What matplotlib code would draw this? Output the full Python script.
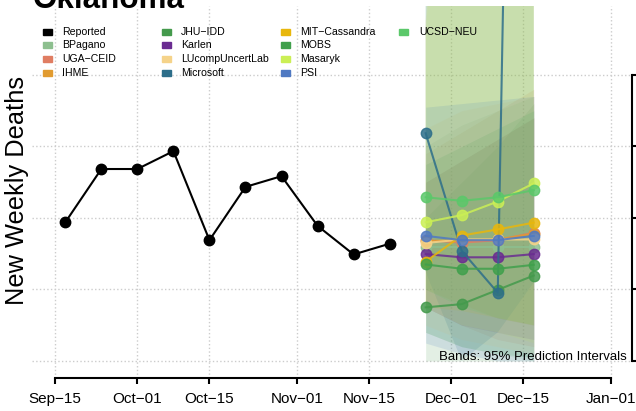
import numpy as np
import pandas as pd
import matplotlib
matplotlib.use('Agg')
import matplotlib.pyplot as plt
import matplotlib.dates as mdates
from matplotlib.patches import Rectangle

plt.rcParams['font.family'] = ['Liberation Sans', 'DejaVu Sans']

# reported weekly deaths
rep_dates = pd.to_datetime(['2022-09-17', '2022-09-24', '2022-10-01', '2022-10-08', '2022-10-15',
                            '2022-10-22', '2022-10-29', '2022-11-05', '2022-11-12', '2022-11-19'])
rep_vals = [38.8, 53.7, 53.7, 58.7, 33.8, 48.7, 51.7, 37.8, 29.8, 32.8]

fc_dates = pd.to_datetime(['2022-11-26', '2022-12-03', '2022-12-10', '2022-12-17'])

models = ['BPagano', 'UGA-CEID', 'IHME', 'JHU-IDD', 'Karlen', 'LUcompUncertLab', 'Microsoft',
          'MIT-Cassandra', 'MOBS', 'Masaryk', 'PSI', 'UCSD-NEU']
colors = ['#8dbf8f', '#e07d62', '#e19b30', '#449a4c', '#6a2c91', '#f5d38a', '#2d6e8a',
          '#e8b70c', '#40a04c', '#cbef55', '#4f79c2', '#5bc86a']

point = {
    'BPagano':         [32.0, 32.0, 32.0, 32.0],
    'UGA-CEID':        [33.8, 33.1, 33.8, 35.9],
    'IHME':            [33.5, 33.8, 34.0, 35.6],
    'JHU-IDD':         [15.0, 15.9, 19.9, 23.9],
    'Karlen':          [29.9, 29.0, 29.0, 29.9],
    'LUcompUncertLab': [33.0, 34.0, 34.0, 34.0],
    'Microsoft':       [63.7, 30.8, 19.1, 565.0],
    'MIT-Cassandra':   [27.8, 35.1, 36.8, 38.7],
    'MOBS':            [27.0, 25.8, 25.8, 26.9],
    'Masaryk':         [38.8, 40.8, 44.6, 49.7],
    'PSI':             [35.0, 33.8, 33.8, 35.0],
    'UCSD-NEU':        [45.8, 44.8, 45.8, 47.8],
}
lower = {
    'BPagano':         [8, 4, 2, 0],
    'UGA-CEID':        [15, 10, 6, 4],
    'IHME':            [20, 16, 12, 10],
    'JHU-IDD':         [0, 0, 0, 0],
    'Karlen':          [15, 10, 8, 6],
    'LUcompUncertLab': [10, 6, 4, 2],
    'Microsoft':       [25, 0, 8, 22],
    'MIT-Cassandra':   [15, 14, 12, 10],
    'MOBS':            [8, 4, 2, 1],
    'Masaryk':         [15, 10, 8, 5],
    'PSI':             [5, 2, 0, 0],
    'UCSD-NEU':        [20, 15, 12, 10],
}
upper = {
    'BPagano':         [60, 66, 70, 74],
    'UGA-CEID':        [58, 64, 70, 76],
    'IHME':            [50, 56, 62, 68],
    'JHU-IDD':         [40, 50, 60, 72],
    'Karlen':          [50, 56, 62, 68],
    'LUcompUncertLab': [65, 70, 72, 74],
    'Microsoft':       [110, 200, 900, 3000],
    'MIT-Cassandra':   [95, 250, 400, 600],
    'MOBS':            [55, 60, 65, 70],
    'Masaryk':         [92, 220, 450, 800],
    'PSI':             [71, 72, 73, 74],
    'UCSD-NEU':        [105, 180, 300, 450],
}

tick_dates = pd.to_datetime(['2022-09-15', '2022-10-01', '2022-10-15', '2022-11-01',
                             '2022-11-15', '2022-12-01', '2022-12-15', '2023-01-01'])
y_ticks = [0, 20, 40, 60, 80]

W, H = 636, 411
fig = plt.figure(figsize=(W / 100, H / 100), dpi=100)
ax = fig.add_axes([32 / W, 1 - 378 / H, 600 / W, 372 / H])

# prediction bands
for m, c in zip(models, colors):
    ax.fill_between(fc_dates, lower[m], upper[m], color=c, alpha=0.15, lw=0)

ax.plot(rep_dates, rep_vals, color='black', lw=1.5, marker='o', ms=7.5, zorder=5)
for m, c in zip(models, colors):
    ax.plot(fc_dates, point[m], color=c, lw=1.5, marker='o', ms=7.5, alpha=0.85, zorder=6)

x0 = mdates.date2num(pd.Timestamp('2022-09-15'))
x1 = mdates.date2num(pd.Timestamp('2023-01-01'))
ax.set_xlim(x0 - 4.47, x0 + 112.08)
ax.set_ylim(-4.76, 99.3)

ax.set_xticks(tick_dates)
ax.xaxis.set_major_formatter(mdates.DateFormatter('%b\u2212%d'))
ax.set_yticks(y_ticks)
ax.yaxis.tick_right()
# tick labels of the right axis fall outside the picture in the reference
ax.set_yticklabels([])
ax.grid(color='#cccccc', linestyle=':', lw=1)
ax.set_axisbelow(True)

for s in ['left', 'top']:
    ax.spines[s].set_visible(False)
ax.spines['bottom'].set_bounds(x0, x1)
ax.spines['right'].set_bounds(0, 80)
ax.spines['bottom'].set_linewidth(1.5)
ax.spines['right'].set_linewidth(1.5)
ax.tick_params(axis='x', length=4, width=1.5, labelsize=11, pad=6)
ax.tick_params(axis='y', length=4, width=1.5)
ax.patch.set_alpha(0)

# title sits partly above the top edge, as in the reference
fig.text(33 / W, 1 - 8 / H, 'Oklahoma', fontsize=22.6, weight='bold', va='baseline')
fig.text(17.5 / W, 1 - 190.5 / H, 'New Weekly Deaths', rotation=90, fontsize=18.3,
         ha='center', va='center')
fig.text(627 / W, 1 - 357 / H, 'Bands: 95% Prediction Intervals', fontsize=9.5,
         ha='right', va='center')

# legend, filled boxes in 4 rows
names = ['Reported'] + models
box_cols = ['black'] + colors
for i, (n, c) in enumerate(zip(names, box_cols)):
    col, row = i // 4, i % 4
    lx = 42.7 + 118.9 * col
    cy = 31.7 + 13.65 * row
    fig.patches.append(Rectangle((lx / W, 1 - (cy + 3) / H), 9 / W, 6 / H, color=c,
                                 transform=fig.transFigure))
    fig.text((lx + 19.5) / W, 1 - cy / H, n.replace('-', '\u2212'), fontsize=7.6, va='center')

fig.savefig('out.png', dpi=100)
